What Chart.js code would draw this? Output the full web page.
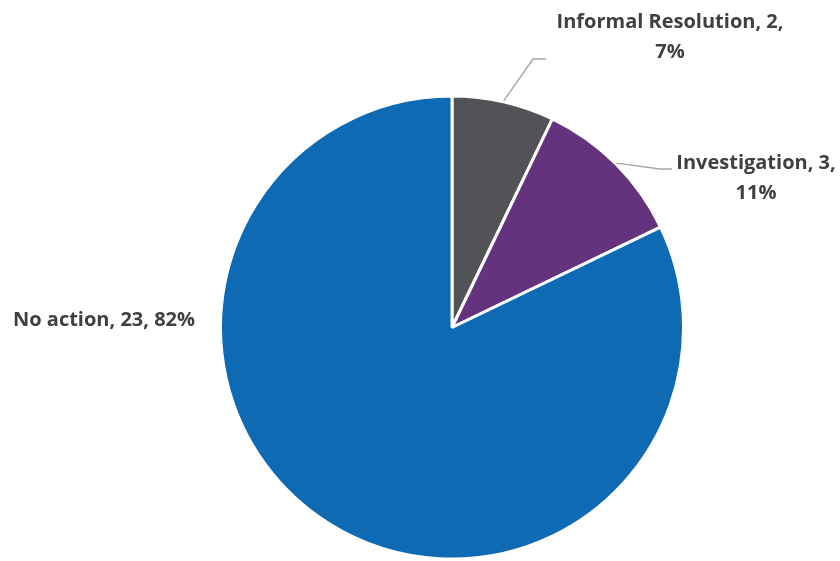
<!DOCTYPE html>
<html>
<head>
<meta charset="utf-8">
<script src="https://cdn.jsdelivr.net/npm/chart.js@4.4.1/dist/chart.umd.min.js"></script>
<style>
  html, body { margin: 0; padding: 0; background: #fff; }
  #wrap { width: 840px; height: 561px; position: relative; }
</style>
</head>
<body>
<div id="wrap"><canvas id="pie"></canvas></div>
<script>
// Data
const categories = ['Informal Resolution', 'Investigation', 'No action'];
const counts = [2, 3, 23];
const percentLabels = ['7%', '11%', '82%'];
const sliceColors = ['#535256', '#65337E', '#0F6AB4'];

// Label layout: text lines, anchor (centre of text block) and leader elbow/end
const labelLayout = [
    { lines: ['Informal Resolution, 2,', '7%'], x: 670, y: 22, elbow: [533, 59], end: [546, 59] },
    { lines: ['Investigation, 3,', '11%'], x: 756, y: 163, elbow: [660, 169], end: [672, 169] },
    { lines: ['No action, 23, 82%'], x: 104, y: 320, elbow: null, end: null }
];

const labelFont = 'bold 20px "Open Sans", "Liberation Sans", sans-serif';
const labelColor = '#404040';
const lineHeight = 30;

const dataLabels = {
    id: 'dataLabels',
    afterDatasetsDraw(chart) {
        const ctx = chart.ctx;
        const meta = chart.getDatasetMeta(0);
        ctx.save();
        meta.data.forEach(function(arc, i) {
            const cfg = labelLayout[i];
            const props = arc.getProps(['x', 'y', 'startAngle', 'endAngle', 'outerRadius'], true);
            const mid = (props.startAngle + props.endAngle) / 2;
            if (cfg.elbow) {
                const r = props.outerRadius + 1;
                const sx = props.x + Math.cos(mid) * r;
                const sy = props.y + Math.sin(mid) * r;
                ctx.strokeStyle = '#A6A6A6';
                ctx.lineWidth = 1.4;
                ctx.beginPath();
                ctx.moveTo(sx, sy);
                ctx.lineTo(cfg.elbow[0], cfg.elbow[1]);
                ctx.lineTo(cfg.end[0], cfg.end[1]);
                ctx.stroke();
            }
            ctx.font = labelFont;
            ctx.fillStyle = labelColor;
            ctx.textAlign = 'center';
            ctx.textBaseline = 'middle';
            cfg.lines.forEach(function(line, j) {
                ctx.fillText(line, cfg.x, cfg.y + j * lineHeight);
            });
        });
        ctx.restore();
    }
};

new Chart(document.getElementById('pie'), {
    type: 'pie',
    data: {
        labels: categories,
        datasets: [{
            data: counts,
            backgroundColor: sliceColors,
            borderColor: '#ffffff',
            borderWidth: 3
        }]
    },
    options: {
        responsive: true,
        maintainAspectRatio: false,
        animation: false,
        layout: {
            padding: { top: 94, bottom: 0, left: 219, right: 155 }
        },
        plugins: {
            legend: { display: false },
            tooltip: { enabled: false }
        }
    },
    plugins: [dataLabels]
});
</script>
</body>
</html>
